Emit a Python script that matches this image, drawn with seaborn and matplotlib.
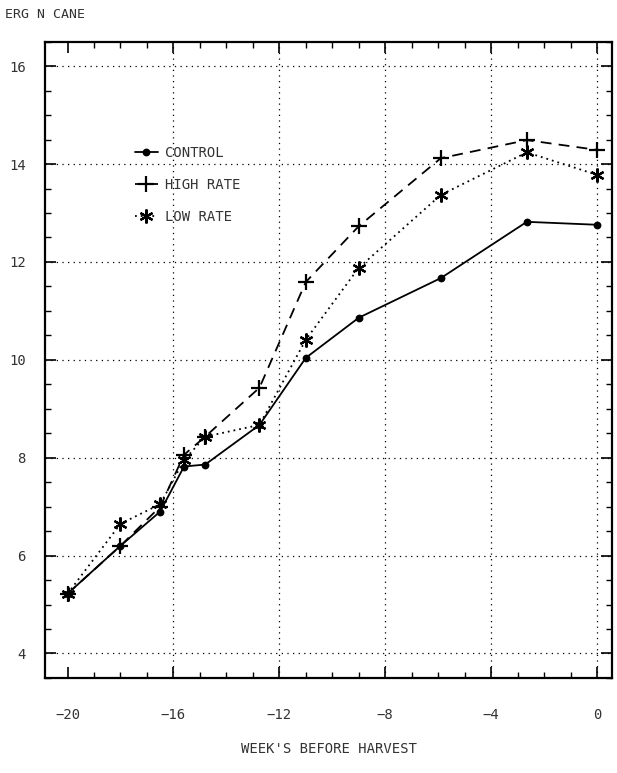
import matplotlib
matplotlib.use("Agg")
import matplotlib.pyplot as plt
from matplotlib.ticker import MultipleLocator
import seaborn as sns
import pandas as pd

# ---- data ----
weeks = [-20, -18, -16.5, -15.6, -14.8, -12.75, -11, -9, -5.9, -2.65, 0]
control = [5.22, 6.2, 6.9, 7.82, 7.86, 8.67, 10.04, 10.86, 11.67, 12.82, 12.76]
high_rate = [5.22, 6.2, 7.0, 8.06, 8.43, 9.43, 11.59, 12.73, 14.12, 14.49, 14.29]
low_rate = [5.22, 6.65, 7.05, 7.95, 8.43, 8.67, 10.41, 11.88, 13.37, 14.24, 13.78]
series_names = ["CONTROL", "HIGH RATE", "LOW RATE"]
x_ticks = [-20, -16, -12, -8, -4, 0]
y_ticks = [4, 6, 8, 10, 12, 14, 16]

rows = []
for name, vals in zip(series_names, [control, high_rate, low_rate]):
    for w, v in zip(weeks, vals):
        rows.append({"week": w, "value": v, "series": name})
df = pd.DataFrame(rows)

sns.set_style("white")
plt.rcParams["font.family"] = ["DejaVu Sans Mono", "DejaVu Sans"]

fig = plt.figure(figsize=(6.17, 7.73), dpi=100)
ax = fig.add_axes([0.073, 0.123, 0.919, 0.823])

palette = {n: "black" for n in series_names}
dashes = {"CONTROL": "", "HIGH RATE": (6, 4), "LOW RATE": (1, 2.2)}
marker_map = {"CONTROL": ("o", 4), "HIGH RATE": ("+", 11), "LOW RATE": ((6, 2, 0), 10)}

sns.lineplot(data=df, x="week", y="value", hue="series", style="series",
             palette=palette, dashes=dashes, linewidth=1.3,
             hue_order=series_names, style_order=series_names,
             legend=False, ax=ax)
data_lines = ax.lines[:3]
for line, name in zip(data_lines, series_names):
    m, s = marker_map[name]
    line.set_marker(m)
    line.set_markersize(s)
    line.set_markeredgewidth(1.6)
    line.set_markerfacecolor("black")
    line.set_markeredgecolor("black")

ax.set_xlim(-20.85, 0.57)
ax.set_ylim(3.5, 16.5)
ax.set_xticks(x_ticks)
ax.set_yticks(y_ticks)
ax.xaxis.set_minor_locator(MultipleLocator(1))
ax.yaxis.set_minor_locator(MultipleLocator(0.5))
ax.tick_params(which="both", direction="in", top=True, right=True,
               bottom=True, left=True, color="black")
ax.tick_params(which="major", length=8, width=1.2, labelsize=10,
               labelcolor="#333333")
ax.tick_params(which="minor", length=4, width=1)
ax.tick_params(axis="x", which="major", pad=22)
ax.tick_params(axis="y", which="major", pad=14)

ax.grid(True, which="major", linestyle=(0, (1, 3.5)), color="black",
        linewidth=0.9)
ax.xaxis.get_gridlines()[0].set_visible(False)

for sp in ax.spines.values():
    sp.set_color("black")
    sp.set_linewidth(1.6)

ax.set_xlabel("WEEK'S BEFORE HARVEST", fontsize=10, color="#333333",
              labelpad=14)
ax.set_ylabel("")

leg = ax.legend(data_lines, series_names, loc="upper left",
                bbox_to_anchor=(0.136, 0.856), frameon=False,
                handlelength=1.7, labelspacing=1.3, fontsize=10,
                handletextpad=0.5)
for t in leg.get_texts():
    t.set_color("#333333")

fig.text(0.008, 0.981, "ERG N CANE", fontsize=9.5, color="#333333",
         ha="left", va="center")

fig.savefig("out.png", dpi=100, facecolor="white")
